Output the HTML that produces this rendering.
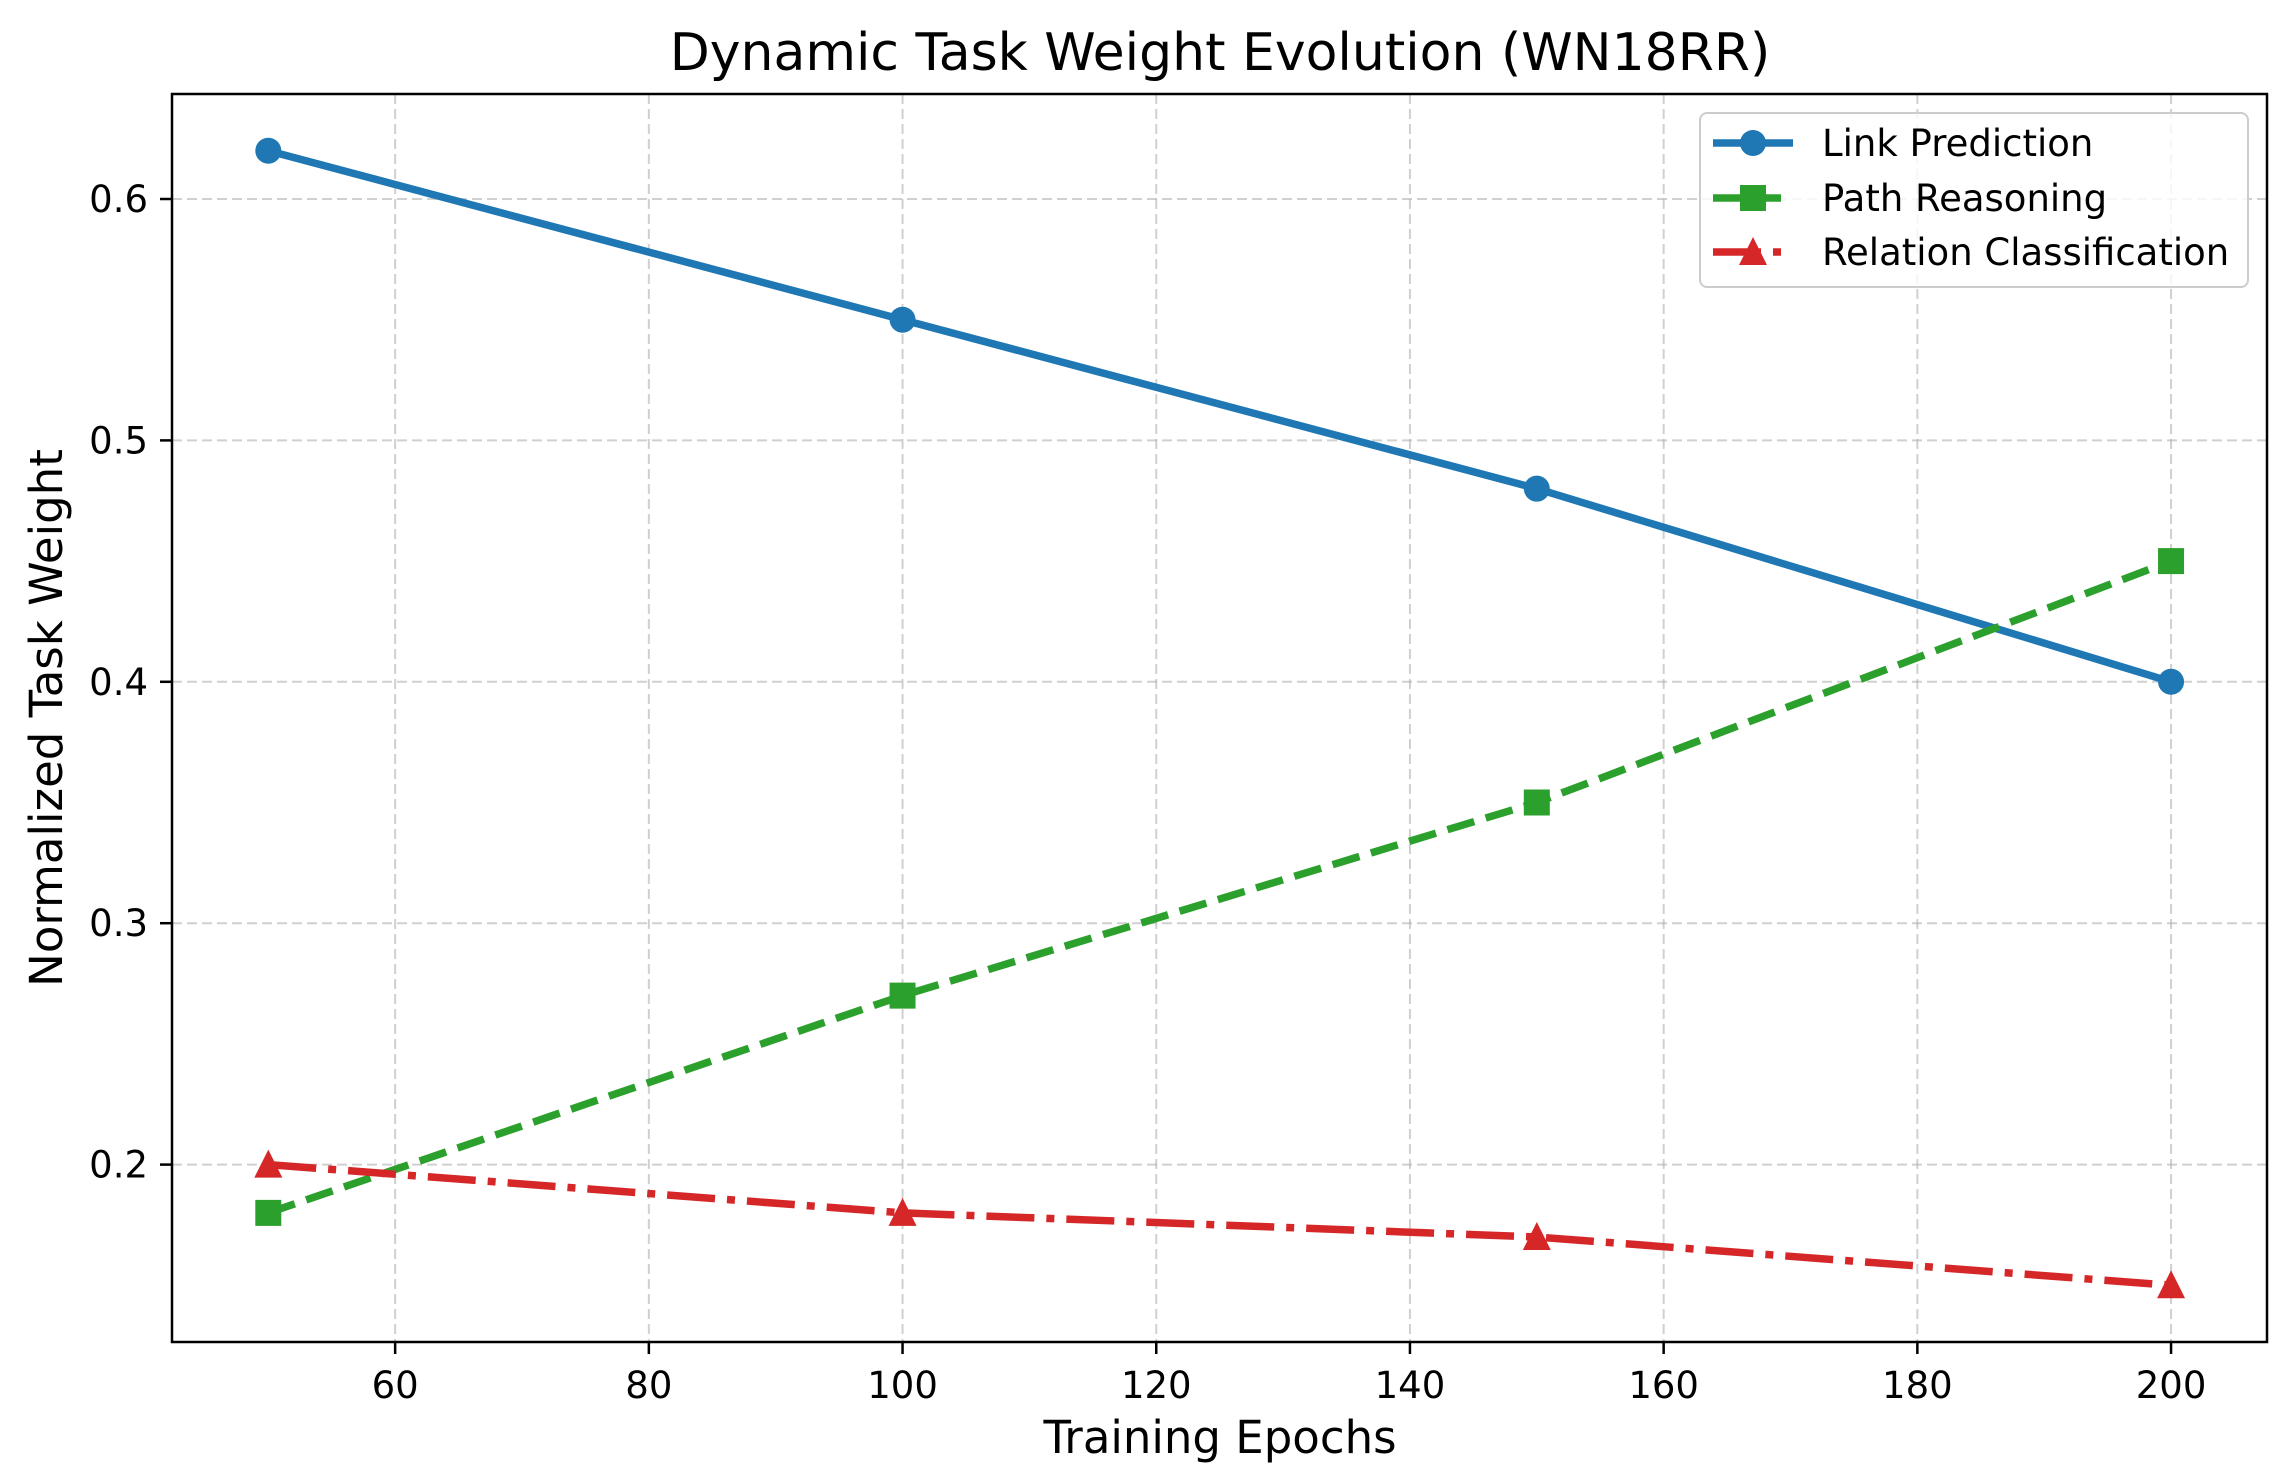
<!DOCTYPE html>
<html><head><meta charset="utf-8"><style>
html,body{margin:0;padding:0;background:#fff;}
svg{display:block;font-family:"DejaVu Sans","Liberation Sans",sans-serif;}
</style></head><body>
<svg id="chart" width="2294" height="1484" viewBox="0 0 2294 1484">
<g id="grid"></g>
<g id="series"></g>
<rect x="172" y="94" width="2095" height="1248" fill="none" stroke="#000" stroke-width="2.5"/>
<g id="axes"></g>
<text x="1220" y="70" font-size="52" text-anchor="middle" fill="#000">Dynamic Task Weight Evolution (WN18RR)</text>
<text x="1220" y="1453" font-size="45" text-anchor="middle" fill="#000">Training Epochs</text>
<text transform="translate(62,718) rotate(-90)" font-size="45" text-anchor="middle" fill="#000">Normalized Task Weight</text>
<g>
<rect x="1700" y="113" width="548" height="174" rx="7" fill="#fff" fill-opacity="0.8" stroke="#ccc" stroke-width="2"/>
<g>
<line x1="1713" y1="143" x2="1793" y2="143" stroke="#1f77b4" stroke-width="7.5"/>
<circle cx="1753" cy="143" r="13" fill="#1f77b4"/>
<text x="1822" y="156" font-size="37" fill="#000">Link Prediction</text></g>
<g>
<line x1="1713" y1="198" x2="1793" y2="198" stroke="#2ca02c" stroke-width="7.5" stroke-dasharray="28,12"/>
<rect x="1740" y="185" width="26" height="26" fill="#2ca02c"/>
<text x="1822" y="211" font-size="37" fill="#000">Path Reasoning</text></g>
<g>
<line x1="1713" y1="252" x2="1793" y2="252" stroke="#d62728" stroke-width="7.5" stroke-dasharray="48,12,8,12"/>
<polygon points="1753,237 1767,265 1739,265" fill="#d62728"/>
<text x="1822" y="265" font-size="37" fill="#000">Relation Classification</text></g>
</g>
</svg>
<script>
const epochs = [50, 100, 150, 200];
const linkPrediction = [0.62, 0.55, 0.48, 0.40];
const pathReasoning = [0.18, 0.27, 0.35, 0.45];
const relationClassification = [0.20, 0.18, 0.17, 0.15];
const xTicks = [60, 80, 100, 120, 140, 160, 180, 200];
const yTicks = [0.2, 0.3, 0.4, 0.5, 0.6];

const NS = "http://www.w3.org/2000/svg";
function xs(v){ return 268.3 + (v - 50) * 12.685; }
function ys(v){ return 199 + (0.6 - v) * 2414; }
function mk(tag, attrs, parent){
  const e = document.createElementNS(NS, tag);
  for (const k in attrs) e.setAttribute(k, attrs[k]);
  parent.appendChild(e);
  return e;
}
const grid = document.getElementById('grid');
const axes = document.getElementById('axes');
const series = document.getElementById('series');

xTicks.forEach(t => {
  const x = xs(t);
  const g = mk('line', {x1:x, y1:94, x2:x, y2:1342, stroke:'#b0b0b0', 'stroke-opacity':0.6, 'stroke-width':2, 'stroke-dasharray':'10,5'}, grid);
  
  
  const tk = mk('line', {x1:x, y1:1342, x2:x, y2:1354, stroke:'#000', 'stroke-width':2.5}, axes);
  
  
  const tx = mk('text', {x:x, y:1398, 'font-size':37, 'text-anchor':'middle', fill:'#000'}, axes);
  tx.textContent = t;
  
  
});
yTicks.forEach(t => {
  const y = ys(t);
  const g = mk('line', {x1:172, y1:y, x2:2267, y2:y, stroke:'#b0b0b0', 'stroke-opacity':0.6, 'stroke-width':2, 'stroke-dasharray':'10,5'}, grid);
  
  
  const tk = mk('line', {x1:160, y1:y, x2:172, y2:y, stroke:'#000', 'stroke-width':2.5}, axes);
  
  
  const tx = mk('text', {x:148, y:y + 13, 'font-size':37, 'text-anchor':'end', fill:'#000'}, axes);
  tx.textContent = t.toFixed(1);
  
  
});

function drawSeries(vals, color, dash, marker, name){
  const pts = epochs.map((e, i) => xs(e) + ',' + ys(vals[i])).join(' ');
  const pl = mk('polyline', {points:pts, fill:'none', stroke:color, 'stroke-width':7.5, 'stroke-dasharray':dash}, series);
  
  
  epochs.forEach((e, i) => {
    const x = xs(e), y = ys(vals[i]);
    let m;
    if (marker === 'o') m = mk('circle', {cx:x, cy:y, r:13, fill:color}, series);
    else if (marker === 's') m = mk('rect', {x:x - 13, y:y - 13, width:26, height:26, fill:color}, series);
    else m = mk('polygon', {points:(x) + ',' + (y - 15) + ' ' + (x + 14) + ',' + (y + 13) + ' ' + (x - 14) + ',' + (y + 13), fill:color}, series);
    
    
  });
}
drawSeries(linkPrediction, '#1f77b4', 'none', 'o', 'link-prediction');
drawSeries(pathReasoning, '#2ca02c', '28,12', 's', 'path-reasoning');
drawSeries(relationClassification, '#d62728', '48,12,8,12', '^', 'relation-classification');
</script>
</body></html>
